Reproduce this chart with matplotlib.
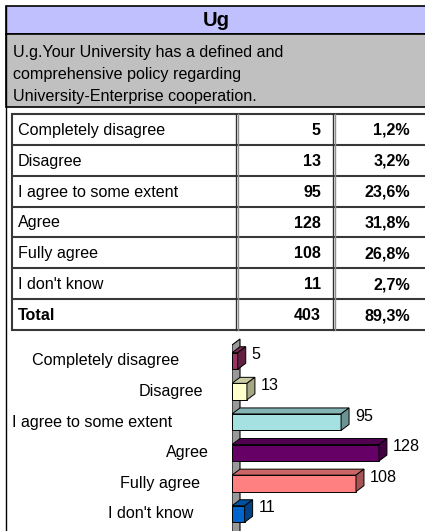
import matplotlib.pyplot as plt
from matplotlib.patches import Rectangle, Polygon
import matplotlib.colors as mc
import numpy as np

plt.rcParams['font.family'] = ['Liberation Sans', 'DejaVu Sans']

# data
title = 'Ug'
question_lines = ['U.g.Your University has a defined and',
                  'comprehensive policy regarding',
                  'University-Enterprise cooperation.']
categories = ['Completely disagree', 'Disagree', 'I agree to some extent',
              'Agree', 'Fully agree', "I don't know"]
counts = [5, 13, 95, 128, 108, 11]
percents = ['1,2%', '3,2%', '23,6%', '31,8%', '26,8%', '2,7%']
total_label = 'Total'
total_count = 403
total_percent = '89,3%'
bar_colors = ['#993366', '#FFFFCC', '#A6E1E1', '#660066', '#FF8080', '#0066CC']

# layout in pixels
W, H = 425, 531
fs = 11.6

fig = plt.figure(figsize=(W / 100, H / 100), dpi=100)
ax = fig.add_axes([0, 0, 1, 1])
ax.set_xlim(0, W)
ax.set_ylim(H, 0)
ax.axis('off')

# header bands
ax.add_patch(Rectangle((6, 6), 430, 28, fc='#C0C0FF', ec='black', lw=1.2))
ax.add_patch(Rectangle((6, 34), 430, 73, fc='#C0C0C0', ec='black', lw=1.2))
ax.plot([6, 6], [6, H], color='black', lw=1.0)
ax.text(216, 21, title, ha='center', va='center', fontsize=14.5, fontweight='bold')
for i, line in enumerate(question_lines):
    ax.text(13, 57 + 22 * i, line, ha='left', va='baseline', fontsize=fs)

# table
top, bottom = 114, 330
n_rows = len(categories) + 1
row_h = (bottom - top) / n_rows
col1, col2 = 236, 333
ax.add_patch(Rectangle((12, top), 430, bottom - top, fc='white', ec='none'))
for k in range(n_rows + 1):
    yy = top + k * row_h
    ax.plot([12, 430], [yy, yy], color='#383838', lw=1.5, solid_capstyle='butt')
ax.plot([12, 12], [top, bottom], color='#383838', lw=1.5)
for xx in (col1, col2):
    ax.plot([xx, xx], [top, bottom], color='#303030', lw=1.0)
    ax.plot([xx + 2, xx + 2], [top, bottom], color='#909090', lw=1.0)

rows = list(zip(categories, counts, percents))
for i, (cat, c, p) in enumerate(rows):
    yc = top + (i + 0.5) * row_h + 1
    ax.text(18, yc, cat, ha='left', va='center', fontsize=fs)
    ax.text(321, yc, str(c), ha='right', va='center', fontsize=fs, fontweight='bold')
    ax.text(410, yc, p, ha='right', va='center', fontsize=fs, fontweight='bold')
yc = top + (n_rows - 0.5) * row_h + 1
ax.text(18, yc, total_label, ha='left', va='center', fontsize=fs, fontweight='bold')
ax.text(321, yc, str(total_count), ha='right', va='center', fontsize=fs, fontweight='bold')
ax.text(410, yc, total_percent, ha='right', va='center', fontsize=fs, fontweight='bold')

# 3d bar chart
x0_px, px_per_unit = 232, 1.148
y0_px, px_per_cat = 361, 30.6
xmax = 160
y_top_px = 338
ylim_top = (y_top_px - y0_px) / px_per_cat
ylim_bot = (H - y0_px) / px_per_cat
ax2 = fig.add_axes([x0_px / W, 0, xmax * px_per_unit / W, (H - y_top_px) / H])
ax2.set_xlim(0, xmax)
ax2.set_ylim(ylim_bot, ylim_top)
ax2.axis('off')

dx = 8 / px_per_unit
dy = 6 / px_per_cat
bh = 0.54


def shade(col, f):
    r, g, b = mc.to_rgb(col)
    return (r * f, g * f, b * f)


# wall
wall_top = (345 - y0_px) / px_per_cat
ax2.add_patch(Polygon([(0, ylim_bot + 1), (0, wall_top), (dx, wall_top - dy), (dx, ylim_bot + 1)],
                      closed=True, fc='#999999', ec='black', lw=0.8, zorder=1))

y = np.arange(len(categories))
ax2.barh(y, counts, height=bh, color=bar_colors, edgecolor='black', lw=0.7, zorder=3)
for yi, v, col in zip(y, counts, bar_colors):
    yt = yi - bh / 2
    yb = yi + bh / 2
    ax2.add_patch(Polygon([(0, yt), (v, yt), (v + dx, yt - dy), (dx, yt - dy)],
                          closed=True, fc=shade(col, 0.8), ec='black', lw=0.7, zorder=3))
    ax2.add_patch(Polygon([(v, yt), (v, yb), (v + dx, yb - dy), (v + dx, yt - dy)],
                          closed=True, fc=shade(col, 0.65), ec='black', lw=0.7, zorder=3))
    ax2.text(v + dx + 6 / px_per_unit, yi - 0.2, str(v), ha='left', va='center', fontsize=fs)

# category labels
label_cx = [106, 171, 92, 187, 160, 151]
for i, (cat, cx) in enumerate(zip(categories, label_cx)):
    ax.text(cx, y0_px + i * px_per_cat, cat, ha='center', va='center', fontsize=fs)

fig.savefig('out.png', dpi=100)
